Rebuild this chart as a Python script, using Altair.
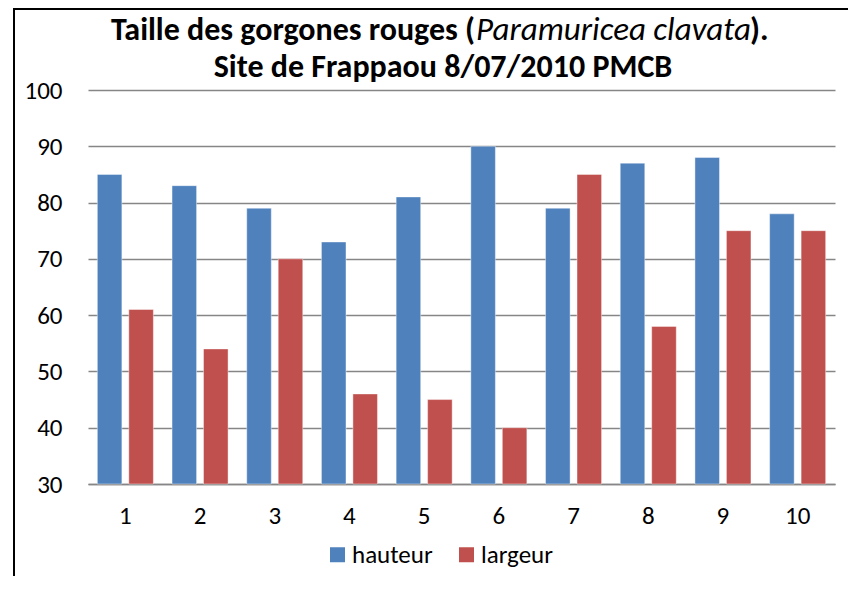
import altair as alt
import pandas as pd

categories = [str(i) for i in range(1, 11)]
hauteur = [85, 83, 79, 73, 81, 90, 79, 87, 88, 78]
largeur = [61, 54, 70, 46, 45, 40, 85, 58, 75, 75]
series = ["hauteur", "largeur"]
colors = ["#4F81BD", "#C0504D"]
y_ticks = [30, 40, 50, 60, 70, 80, 90, 100]

title_a = "Taille des gorgones rouges ("
title_b = "Paramuricea clavata"
title_c = ")."
title_2 = "Site de Frappaou 8/07/2010 PMCB"

FONT = "Carlito, Calibri, Lato"

rows = []
for c, h, l in zip(categories, hauteur, largeur):
    rows.append({"cat": c, "serie": series[0], "val": h})
    rows.append({"cat": c, "serie": series[1], "val": l})
df = pd.DataFrame(rows)

W, H = 747, 394

bars = alt.Chart(df).mark_bar(stroke="white", strokeWidth=0.6, strokeOpacity=0.7).encode(
    x=alt.X("cat:N", sort=categories,
            scale=alt.Scale(paddingInner=0.25, paddingOuter=0.125),
            axis=alt.Axis(title=None, labelAngle=0, labelFont=FONT, labelFontSize=25,
                          labelColor="black", labelPadding=19, ticks=False, tickSize=0,
                          domainColor="#868686", domainWidth=1.5)),
    xOffset=alt.XOffset("serie:N", sort=series, scale=alt.Scale(paddingInner=0.22)),
    y=alt.Y("val:Q", scale=alt.Scale(domain=[30, 100], nice=False, zero=False),
            axis=alt.Axis(title=None, values=y_ticks, labelFont=FONT, labelFontSize=25,
                          labelColor="black", labelPadding=26, ticks=False, tickSize=0,
                          domain=False, grid=True, gridColor="#868686", gridWidth=1.5)),
    y2=alt.datum(30),
    color=alt.Color("serie:N", sort=series,
                    scale=alt.Scale(domain=series, range=colors),
                    legend=alt.Legend(title=None, orient="none", legendX=237, legendY=452,
                                      direction="horizontal", symbolType="square",
                                      symbolSize=225, symbolStrokeWidth=0,
                                      labelFont=FONT, labelFontSize=25, labelColor="black",
                                      labelOffset=2, columnPadding=21, padding=0)),
)


def text_layer(txt, x, y, align, weight="bold", style="normal", size=32):
    return alt.Chart(pd.DataFrame({"t": [txt]})).mark_text(
        font=FONT, fontSize=size, fontWeight=weight, fontStyle=style,
        align=align, baseline="alphabetic", color="black"
    ).encode(text="t:N", x=alt.value(x), y=alt.value(y))


t1a = text_layer(title_a, 387, -50, "right")
t1b = text_layer(title_b, 388, -50, "left", weight="normal", style="italic", size=33)
t1c = text_layer(title_c, 662, -50, "left")
t2 = text_layer(title_2, 355, -13, "center", size=32)

border_left = alt.Chart(pd.DataFrame({"k": [0]})).mark_rule(color="black", strokeWidth=2).encode(
    x=alt.value(-74), y=alt.value(-82), y2=alt.value(500))
border_top = alt.Chart(pd.DataFrame({"k": [0]})).mark_rule(color="black", strokeWidth=2).encode(
    x=alt.value(-75), x2=alt.value(770), y=alt.value(-81))

chart = alt.layer(bars, t1a, t1b, t1c, t2, border_left, border_top).properties(
    width=W, height=H,
    autosize=alt.AutoSizeParams(type="none"),
    padding={"left": 80, "top": 82, "right": 13, "bottom": 92},
    background="white",
).configure_view(stroke=None)

chart.save("out.html", embed_options={"renderer": "svg", "actions": False})
